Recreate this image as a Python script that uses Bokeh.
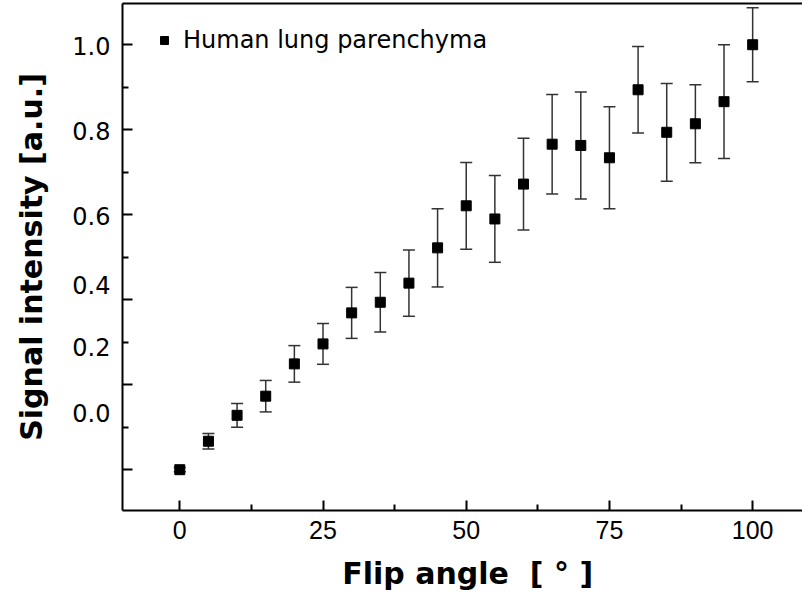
from bokeh.plotting import figure
from bokeh.models import (ColumnDataSource, Whisker, TeeHead, FixedTicker, LinearAxis,
                          Legend, LegendItem, Range1d, CustomJSTickFormatter)
from bokeh.embed import file_html
from bokeh.resources import INLINE

# ---- data ----
flip_angle = [0, 5, 10, 15, 20, 25, 30, 35, 40, 45, 50, 55, 60, 65, 70, 75, 80, 85, 90, 95, 100]
signal = [0.000, 0.067, 0.128, 0.173, 0.249, 0.296, 0.369, 0.394, 0.439, 0.522, 0.621,
          0.590, 0.672, 0.766, 0.763, 0.734, 0.894, 0.794, 0.814, 0.866, 1.000]
error = [0.005, 0.018, 0.028, 0.037, 0.043, 0.048, 0.060, 0.070, 0.078, 0.092, 0.102,
         0.102, 0.108, 0.117, 0.126, 0.120, 0.102, 0.115, 0.092, 0.134, 0.087]
x_ticks = [0, 25, 50, 75, 100]
x_minor = [12.5, 37.5, 62.5, 87.5]
y_ticks = [0.0, 0.2, 0.4, 0.6, 0.8, 1.0]
y_minor = [0.1, 0.3, 0.5, 0.7, 0.9]
# tick labels as printed in the reference (lower three sit off their ticks)
y_tick_labels = ["0.0", "0.2", "0.4", "0.6", "0.8", "1.0"]
y_label_positions = [0.134, 0.289, 0.434, 0.597, 0.797, 0.996]
series_name = "Human lung parenchyma"

src = ColumnDataSource(dict(
    x=flip_angle, y=signal,
    lower=[s - e for s, e in zip(signal, error)],
    upper=[s + e for s, e in zip(signal, error)],
))

p = figure(width=802, height=605, output_backend="svg", toolbar_location=None,
           x_range=Range1d(-10, 108.7), y_range=Range1d(-0.096, 1.097),
           min_border_left=122, min_border_right=0, min_border_top=3, min_border_bottom=95)
p.outline_line_color = None
p.grid.visible = False
p.background_fill_color = "white"
p.border_fill_color = "white"

wh = Whisker(source=src, base="x", lower="lower", upper="upper",
             line_color="#333333", line_width=1.5,
             lower_head=TeeHead(size=12, line_color="#333333", line_width=1.5),
             upper_head=TeeHead(size=12, line_color="#333333", line_width=1.5),
             level="underlay")
p.add_layout(wh)

r = p.scatter("x", "y", source=src, marker="square", size=10,
              fill_color="black", line_color="black")

# x axis
xa = p.xaxis[0]
xa.ticker = FixedTicker(ticks=x_ticks, minor_ticks=x_minor)
xa.axis_line_width = 2
xa.axis_line_color = "black"
xa.major_tick_in = 10
xa.major_tick_out = 0
xa.minor_tick_in = 6
xa.minor_tick_out = 0
xa.major_tick_line_width = 2
xa.minor_tick_line_width = 2
xa.major_label_text_color = "black"
xa.major_label_text_font = "Liberation Sans"
xa.major_label_text_font_size = "25px"
xa.major_label_standoff = 10
xa.axis_label = "\u00a0Flip angle\u00a0\u00a0[ ° ]"
xa.axis_label_standoff = 14
xa.axis_label_text_color = "black"
xa.axis_label_text_font = "DejaVu Sans"
xa.axis_label_text_font_style = "bold"
xa.axis_label_text_font_size = "30px"

# inner left axis: axis line and the long tick marks (no labels)
ya = p.yaxis[0]
ya.ticker = FixedTicker(ticks=[], minor_ticks=y_ticks)
ya.axis_line_width = 2
ya.axis_line_color = "black"
ya.major_tick_in = 0
ya.major_tick_out = 0
ya.minor_tick_in = 10
ya.minor_tick_out = 0
ya.minor_tick_line_width = 2
ya.major_label_standoff = 0

# second inner axis: the short tick marks
short_axis = LinearAxis(ticker=FixedTicker(ticks=[], minor_ticks=y_minor),
                        axis_line_color=None, major_tick_in=0, major_tick_out=0,
                        minor_tick_in=6, minor_tick_out=0, minor_tick_line_width=2,
                        minor_tick_line_color="black", major_label_standoff=0)
p.add_layout(short_axis, "left")

# outer left axis: the printed labels and the title
label_axis = LinearAxis(
    ticker=FixedTicker(ticks=y_label_positions, minor_ticks=[]),
    formatter=CustomJSTickFormatter(
        args=dict(pos=y_label_positions, labels=y_tick_labels),
        code="""
        for (let i = 0; i < pos.length; i++) {
            if (Math.abs(pos[i] - tick) < 1e-6) return labels[i];
        }
        return '';
        """),
    axis_line_color=None, major_tick_in=0, major_tick_out=0, minor_tick_in=0, minor_tick_out=0,
    major_label_text_font="DejaVu Sans", major_label_text_font_size="24px",
    major_label_text_color="black", major_label_standoff=12,
    axis_label="Signal intensity [a.u.]", axis_label_standoff=20,
    axis_label_text_font="DejaVu Sans", axis_label_text_font_style="bold",
    axis_label_text_font_size="30px", axis_label_text_color="black")
p.add_layout(label_axis, "left")

top_axis = LinearAxis(ticker=FixedTicker(ticks=[], minor_ticks=[]), axis_line_width=2,
                      axis_line_color="black", major_tick_in=0, major_tick_out=0,
                      minor_tick_in=0, minor_tick_out=0, major_label_standoff=0)
p.add_layout(top_axis, "above")

legend = Legend(items=[LegendItem(label=series_name, renderers=[r])],
                location=(32, 456), border_line_color=None, background_fill_alpha=0,
                padding=0, margin=0, spacing=0, glyph_width=20, glyph_height=20,
                label_standoff=9, label_text_font="DejaVu Sans", label_text_font_size="24px",
                label_text_color="black")
p.add_layout(legend)

open("out.html", "w").write(file_html(p, INLINE))
